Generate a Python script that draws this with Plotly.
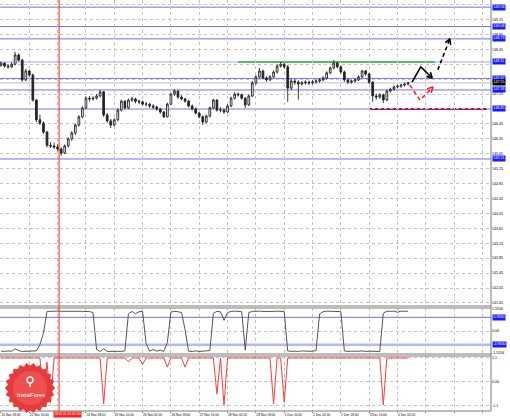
import math
import plotly.graph_objects as go

# ---------------- data (2-hour bars) ----------------
OPEN = [148.02, 148.08, 148.00, 147.98, 148.05, 148.30, 148.16, 147.63, 147.87, 147.76,
        147.09, 146.56, 146.47, 146.23, 145.88, 145.86, 145.83, 145.78, 145.67, 145.86,
        146.05, 146.21, 146.42, 146.64, 146.88, 147.14, 147.12, 147.14, 147.20, 147.31,
        146.69, 146.53, 146.42, 146.56, 146.82, 147.06, 146.88, 147.09, 147.12, 147.06,
        147.04, 146.98, 146.98, 146.93, 146.90, 146.85, 146.77, 146.64, 146.98, 147.25,
        147.33, 147.17, 147.12, 147.06, 146.93, 146.85, 146.74, 146.64, 146.50, 146.66,
        146.88, 147.09, 146.82, 146.82, 146.77, 146.93, 147.14, 147.25, 147.23, 147.14,
        146.96, 147.20, 147.55, 147.71, 147.87, 147.68, 147.63, 147.71, 147.84, 148.00,
        148.05, 147.98, 147.41, 147.60, 147.57, 147.52, 147.55, 147.57, 147.55, 147.57,
        147.60, 147.63, 147.68, 147.82, 147.95, 148.08, 147.98, 147.84, 147.63, 147.57,
        147.60, 147.63, 147.71, 147.87, 147.79, 147.57, 147.20, 147.17, 147.23, 147.09,
        147.33, 147.38, 147.44, 147.46, 147.49, 147.52]
HIGH = [148.12, 148.10, 148.05, 148.10, 148.38, 148.34, 148.19, 147.92, 147.90, 147.80,
        147.12, 146.70, 146.52, 146.26, 145.96, 145.95, 145.90, 145.82, 145.90, 146.09,
        146.25, 146.46, 146.68, 146.92, 147.18, 147.20, 147.19, 147.25, 147.36, 147.33,
        146.74, 146.58, 146.60, 146.86, 147.10, 147.08, 147.13, 147.18, 147.15, 147.10,
        147.08, 147.04, 147.01, 146.98, 146.94, 146.88, 146.80, 147.02, 147.28, 147.38,
        147.35, 147.22, 147.15, 147.09, 146.97, 146.89, 146.78, 146.68, 146.70, 146.92,
        147.13, 147.11, 146.90, 146.86, 146.97, 147.18, 147.30, 147.29, 147.26, 147.17,
        147.24, 147.60, 147.76, 147.95, 147.90, 147.72, 147.76, 147.88, 148.04, 148.11,
        148.09, 148.03, 147.66, 147.65, 147.62, 147.60, 147.62, 147.61, 147.62, 147.65,
        147.67, 147.73, 147.86, 147.99, 148.16, 148.12, 148.02, 147.88, 147.67, 147.64,
        147.67, 147.75, 147.90, 147.89, 147.82, 147.60, 147.26, 147.27, 147.26, 147.37,
        147.42, 147.48, 147.50, 147.52, 147.55, 147.57]
LOW = [147.98, 147.96, 147.93, 147.95, 148.02, 148.12, 147.58, 147.60, 147.70, 147.05,
       146.50, 146.42, 146.18, 145.82, 145.80, 145.78, 145.72, 145.60, 145.64, 145.82,
       146.00, 146.15, 146.38, 146.60, 146.85, 147.05, 147.08, 147.10, 147.16, 146.64,
       146.48, 146.34, 146.38, 146.52, 146.78, 146.84, 146.85, 147.04, 147.00, 146.98,
       146.94, 146.92, 146.88, 146.85, 146.80, 146.72, 146.61, 146.62, 146.95, 147.20,
       147.12, 147.08, 147.02, 146.89, 146.81, 146.70, 146.60, 146.42, 146.47, 146.62,
       146.85, 146.78, 146.76, 146.72, 146.74, 146.90, 147.10, 147.18, 147.10, 146.88,
       146.93, 147.17, 147.50, 147.68, 147.64, 147.58, 147.60, 147.68, 147.80, 147.96,
       147.93, 147.04, 147.36, 147.50, 147.10, 147.48, 147.50, 147.49, 147.51, 147.53,
       147.55, 147.59, 147.64, 147.78, 147.91, 147.94, 147.80, 147.58, 147.52, 147.53,
       147.56, 147.60, 147.68, 147.74, 147.52, 147.04, 147.10, 147.12, 147.01, 147.06,
       147.29, 147.34, 147.40, 147.42, 147.45, 147.48]
CLOSE = [148.08, 148.00, 147.98, 148.05, 148.30, 148.16, 147.63, 147.87, 147.76, 147.09,
         146.56, 146.47, 146.23, 145.88, 145.86, 145.83, 145.78, 145.67, 145.86, 146.05,
         146.21, 146.42, 146.64, 146.88, 147.14, 147.12, 147.14, 147.20, 147.31, 146.69,
         146.53, 146.42, 146.56, 146.82, 147.06, 146.88, 147.09, 147.12, 147.06, 147.04,
         146.98, 146.98, 146.93, 146.90, 146.85, 146.77, 146.64, 146.98, 147.25, 147.33,
         147.17, 147.12, 147.06, 146.93, 146.85, 146.74, 146.64, 146.50, 146.66, 146.88,
         147.09, 146.82, 146.82, 146.77, 146.93, 147.14, 147.25, 147.23, 147.14, 146.96,
         147.20, 147.55, 147.71, 147.87, 147.68, 147.63, 147.71, 147.84, 148.00, 148.05,
         147.98, 147.41, 147.60, 147.57, 147.52, 147.55, 147.57, 147.55, 147.57, 147.60,
         147.63, 147.68, 147.82, 147.95, 148.08, 147.98, 147.84, 147.63, 147.57, 147.60,
         147.63, 147.71, 147.87, 147.79, 147.57, 147.20, 147.17, 147.23, 147.09, 147.33,
         147.38, 147.44, 147.46, 147.49, 147.52, 147.55]
BARS = list(range(len(CLOSE)))

# oscillator sub-window (grey)
OSC = [-1.42, -1.44, -1.40, -1.43, -1.25, -1.38, -1.44, -1.42, -1.44, -1.43,
       -1.40, -0.95, -0.15, 1.38, 1.40, 1.38, 1.40, 1.39, 1.40, 1.36,
       1.38, 1.40, 1.39, 1.38, 1.40, 1.37, 1.30, -1.30, -1.44, -1.25,
       -1.44, -1.42, -1.44, -1.43, -1.44, -1.40, 1.20, 1.38, 1.22, 1.36,
       1.38, -0.90, -1.42, -1.30, -1.42, -1.35, -1.44, -0.80, 1.34, 1.38,
       1.36, 1.30, 0.10, -1.42, -1.44, -1.40, -1.44, -1.42, -1.44, -1.38,
       1.25, 1.38, 1.35, 0.75, 1.30, 1.38, 1.40, 1.38, 1.36, -1.35,
       1.30, 1.38, 1.40, 1.40, 1.38, 1.37, 1.40, 1.38, 1.40, 1.39,
       1.36, -1.40, -1.44, -1.42, -1.44, -1.40, -1.44, -1.43, -1.42, -1.38,
       1.20, 1.36, 1.40, 1.38, 1.40, 1.38, 1.36, -1.40, -1.44, -1.42,
       -1.44, -1.43, -1.40, -1.44, -1.42, -1.44, -1.43, -1.44, 1.25, 1.40,
       1.38, 1.40, 1.32, 1.40, 1.39, 1.40]
OSC_LEVELS = [0.9630, -0.9630]

# signal sub-window (red)
SIG = [1.10, 1.10, 1.10, 1.10, 1.10, 1.10, 1.10, 1.10, 1.10, 1.10,
       1.10, 1.10, -0.85, 0.90, -0.95, 1.10, 1.10, 1.10, 1.10, 1.10,
       1.10, 1.10, 1.10, 1.10, 1.10, 1.10, 1.10, 1.10, 1.10, -1.00,
       1.10, 1.10, 1.10, 1.10, 1.10, 1.10, 0.92, 1.10, 1.10, 1.10,
       0.80, 1.10, 1.10, 1.10, 1.10, 1.10, 1.10, 0.68, 1.10, 1.10,
       1.10, 1.10, 0.68, 1.10, 1.10, 1.10, 1.10, 1.10, 1.10, 1.10,
       1.10, -0.55, 1.10, -1.05, 1.10, 1.10, 1.10, 1.10, 1.10, 1.10,
       1.10, 1.10, 1.10, 1.10, 1.10, 1.10, 1.10, -1.00, 1.10, 1.10,
       -0.92, 1.10, 1.10, 1.10, 1.10, 1.10, 1.10, 1.10, 1.10, 1.10,
       1.10, 1.10, 1.10, 1.10, 1.10, 1.10, 1.10, 1.10, 1.10, 1.10,
       1.10, 1.10, 1.10, 1.10, 1.10, 1.10, 1.10, 1.10, -1.05, 1.10,
       1.10, 1.10, 1.10, 1.10, 1.10, 1.10]

# horizontal levels drawn on the price chart
BLUE_LEVELS = [149.58, 149.06, 148.73, 147.67, 147.36, 145.51]
RESIST_LEVEL = 148.11
SUPPORT_LEVEL = 146.85

# axis ticks (labels hidden under level badges are left blank)
Y_TICKS = [141.65, 142.05, 142.45, 142.85, 143.25, 143.65, 144.05, 144.45, 144.85, 145.25,
           145.65, 146.05, 146.45, 146.85, 147.25, 147.65, 148.05, 148.45, 148.85, 149.25, 149.65]
Y_TICK_TEXT = ["141.65", "142.05", "142.45", "142.85", "143.25", "143.65", "144.05", "144.45",
               "144.85", "145.25", "145.65", "146.05", "146.45", "", "147.25", "",
               "", "148.45", "148.85", "149.25", ""]
X_TICKS = [0, 8, 16, 24, 32, 40, 48, 56, 64, 72, 80, 88, 96, 104, 112, 120, 128, 136]
X_TICK_TEXT = ["20 Nov 18:00", "21 Nov 10:00", "", "24 Nov 18:00", "25 Nov 10:00",
               "26 Nov 02:00", "26 Nov 18:00", "27 Nov 10:00", "28 Nov 02:00", "28 Nov 18:00",
               "1 Dec 10:00", "2 Dec 02:00", "2 Dec 18:00", "3 Dec 10:00", "4 Dec 02:00", "", "", ""]
VLINE_BAR = 16.4
VLINE_TEXT = "2014.11.24 01:00"

# forecast arrows (bar, price)
ARROW_BLACK = ([116.1, 118.6, 121.8], [147.57, 147.98, 147.68])
ARROW_BLACK_UP = ([123.4, 126.8], [147.90, 148.73])
ARROW_RED = ([115.5, 118.4, 122.0], [147.49, 147.09, 147.44])

# ---------------- geometry ----------------
W, H = 510, 420
AX_R = 491
MAIN = (0, 306)
P2 = (308, 354)
P3 = (356, 411)
XR = [-0.28, 138.42]
Y1R = [141.568, 149.772]
Y2R = [-1.62, 1.62]
Y3R = [-1.33, 1.19]
FONT = "Liberation Sans, Arial, sans-serif"
FS = 3.6
FSX = 3.2


def dom(p):
    return [1 - p[1] / H, 1 - p[0] / H]


def to_px(x, y):
    px = (x - XR[0]) / (XR[1] - XR[0]) * AX_R
    py = MAIN[0] + (Y1R[1] - y) / (Y1R[1] - Y1R[0]) * (MAIN[1] - MAIN[0])
    return px, py


def from_px(px, py):
    x = XR[0] + px / AX_R * (XR[1] - XR[0])
    y = Y1R[1] - (py - MAIN[0]) / (MAIN[1] - MAIN[0]) * (Y1R[1] - Y1R[0])
    return x, y


def head(xs, ys, length=6.0, ang=0.5):
    tx, ty = to_px(xs[-1], ys[-1])
    sx, sy = to_px(xs[-2], ys[-2])
    dx, dy = sx - tx, sy - ty
    n = math.hypot(dx, dy)
    dx, dy = dx / n, dy / n
    pts = []
    for a in (ang, -ang):
        rx = dx * math.cos(a) - dy * math.sin(a)
        ry = dx * math.sin(a) + dy * math.cos(a)
        pts.append(from_px(tx + rx * length, ty + ry * length))
    return ([pts[0][0], xs[-1], pts[1][0]], [pts[0][1], ys[-1], pts[1][1]])


fig = go.Figure()

fig.add_trace(go.Candlestick(
    x=BARS, open=OPEN, high=HIGH, low=LOW, close=CLOSE, xaxis="x", yaxis="y",
    increasing=dict(line=dict(color="#222222", width=0.9), fillcolor="#ffffff"),
    decreasing=dict(line=dict(color="#222222", width=0.9), fillcolor="#222222"),
    whiskerwidth=0, showlegend=False, hoverinfo="skip"))

fig.add_trace(go.Scatter(x=BARS, y=OSC, mode="lines", xaxis="x2", yaxis="y2",
                         line=dict(color="#555555", width=1), showlegend=False, hoverinfo="skip"))
fig.add_trace(go.Scatter(x=BARS, y=SIG, mode="lines", xaxis="x3", yaxis="y3",
                         line=dict(color="#ff3b3b", width=1), showlegend=False, hoverinfo="skip"))

# arrows
fig.add_trace(go.Scatter(x=ARROW_BLACK[0], y=ARROW_BLACK[1], mode="lines", xaxis="x", yaxis="y",
                         line=dict(color="#000000", width=1.6), showlegend=False, hoverinfo="skip"))
hx, hy = head(*ARROW_BLACK)
fig.add_trace(go.Scatter(x=hx, y=hy, mode="lines", line=dict(color="#000000", width=1.6),
                         showlegend=False, hoverinfo="skip"))
fig.add_trace(go.Scatter(x=ARROW_BLACK_UP[0], y=ARROW_BLACK_UP[1], mode="lines",
                         line=dict(color="#000000", width=1.6, dash="4px,3px"),
                         showlegend=False, hoverinfo="skip"))
hx, hy = head(*ARROW_BLACK_UP)
fig.add_trace(go.Scatter(x=hx, y=hy, mode="lines", line=dict(color="#000000", width=1.6),
                         showlegend=False, hoverinfo="skip"))
fig.add_trace(go.Scatter(x=ARROW_RED[0], y=ARROW_RED[1], mode="lines",
                         line=dict(color="#ff2020", width=1.6, dash="4px,3px"),
                         showlegend=False, hoverinfo="skip"))
hx, hy = head(*ARROW_RED)
fig.add_trace(go.Scatter(x=hx, y=hy, mode="lines", line=dict(color="#ff2020", width=1.6),
                         showlegend=False, hoverinfo="skip"))

shapes = []


def hline(y, x0, x1, color, width=1, yref="y"):
    shapes.append(dict(type="line", xref="x", yref=yref, x0=x0, x1=x1, y0=y, y1=y,
                       line=dict(color=color, width=width), layer="below"))


for lv in BLUE_LEVELS:
    hline(lv, XR[0], XR[1], "#6f6fff")
g0 = from_px(238, 0)[0]
g1 = from_px(435, 0)[0]
hline(RESIST_LEVEL, XR[0], g0, "#a4a4ff")
hline(RESIST_LEVEL, g0, g1, "#5cb85c", 2)
hline(RESIST_LEVEL, g1, XR[1], "#a4a4ff")
m0 = from_px(370, 0)[0]
m1 = from_px(487, 0)[0]
hline(SUPPORT_LEVEL, XR[0], m0, "#6f6fff")
hline(SUPPORT_LEVEL, m0, m1, "#b0145a", 2)
hline(SUPPORT_LEVEL, m1, XR[1], "#6f6fff")
hline(CLOSE[-1], XR[0], XR[1], "#c0c0c0")
hline(OSC_LEVELS[0], XR[0], XR[1], "#6f6fff", 1, "y2")
hline(OSC_LEVELS[1], XR[0], XR[1], "#b4b8ff", 2.5, "y2")


def pp(px, py):
    return px / W, 1 - py / H


for y in (306, 308, 354, 356, 411):
    x0, yy = pp(0, y)
    x1, _ = pp(AX_R, y)
    shapes.append(dict(type="line", xref="paper", yref="paper", x0=x0, x1=x1, y0=yy, y1=yy,
                       line=dict(color="#7a7a7a", width=1), layer="above"))
xa, _ = pp(AX_R, 0)
_, ya1 = pp(AX_R, 411)
shapes.append(dict(type="line", xref="paper", yref="paper", x0=xa, x1=xa, y0=ya1, y1=1,
                   line=dict(color="#7a7a7a", width=1), layer="above"))
shapes.append(dict(type="line", xref="x", yref="paper", x0=VLINE_BAR, x1=VLINE_BAR,
                   y0=1 - 411 / H, y1=1, line=dict(color="#ff2020", width=1), layer="above"))

# InstaForex gear logo
cx, cy, ro, ri, nt = 30, 388, 25, 22, 22
pts = []
for i in range(nt * 2):
    a = math.pi * i / nt
    r = ro if i % 2 == 0 else ri
    pts.append(pp(cx + r * math.cos(a), cy + r * math.sin(a)))
path = "M " + " L ".join(f"{x:.5f},{y:.5f}" for x, y in pts) + " Z"
shapes.append(dict(type="path", xref="paper", yref="paper", path=path,
                   fillcolor="#e53b3b", line=dict(color="#e53b3b", width=0.5), layer="above"))
c0 = pp(cx - 17, cy - 17)
c1 = pp(cx + 17, cy + 17)
shapes.append(dict(type="circle", xref="paper", yref="paper", x0=c0[0], x1=c1[0], y0=c1[1], y1=c0[1],
                   fillcolor="#ee5050", line=dict(width=0), layer="above"))
i0 = pp(cx - 3, cy - 11)
i1 = pp(cx + 3, cy - 5)
shapes.append(dict(type="circle", xref="paper", yref="paper", x0=i0[0], x1=i1[0], y0=i1[1], y1=i0[1],
                   line=dict(color="#ffffff", width=1.5), layer="above"))
s0 = pp(cx, cy - 5)
s1 = pp(cx, cy - 1)
shapes.append(dict(type="line", xref="paper", yref="paper", x0=s0[0], x1=s1[0], y0=s0[1], y1=s1[1],
                   line=dict(color="#ffffff", width=1.5), layer="above"))

annotations = []


def badge(y, text, bg, yref="y"):
    annotations.append(dict(xref="paper", yref=yref, x=(AX_R + 1) / W, y=y, xanchor="left",
                            yanchor="middle", text=text, showarrow=False, bgcolor=bg,
                            borderpad=0.4, font=dict(family=FONT, size=FS, color="#ffffff")))


for lv in BLUE_LEVELS + [RESIST_LEVEL, SUPPORT_LEVEL]:
    badge(lv, f"{lv:.2f}", "#1a1aff")
badge(CLOSE[-1], f"{CLOSE[-1]:.2f}", "#000000")
for lv in OSC_LEVELS:
    badge(lv, f"{lv:.4f}", "#1a1aff", "y2")

# time badge of the red vertical line (kept just clear of the preceding tick label)
annotations.append(dict(xref="paper", yref="paper", x=52.5 / W, y=1 - 414.5 / H, text=VLINE_TEXT,
                        showarrow=False, bgcolor="#ff2020", borderpad=0.4, xanchor="left",
                        yanchor="middle", font=dict(family=FONT, size=3.4, color="#ffffff")))
lx, ly = pp(cx + 1, cy + 7)
annotations.append(dict(xref="paper", yref="paper", x=lx, y=ly, text="InstaForex", showarrow=False,
                        xanchor="center", yanchor="middle",
                        font=dict(family=FONT, size=6, color="#ffffff")))

grid = dict(showgrid=True, gridcolor="#c4c4c4", griddash="dot", gridwidth=1, zeroline=False,
            automargin=False)
xcommon = dict(domain=[0, AX_R / W], range=XR, tickvals=X_TICKS, **grid)
tickfont = dict(family=FONT, size=FS, color="#000000")
ycommon = dict(side="right", ticks="", tickfont=tickfont, **grid)

fig.update_layout(
    width=W, height=H, margin=dict(l=0, r=0, t=0, b=0, pad=0, autoexpand=False),
    paper_bgcolor="#ffffff", plot_bgcolor="#ffffff", showlegend=False,
    xaxis=dict(anchor="y", showticklabels=False, rangeslider=dict(visible=False), **xcommon),
    xaxis2=dict(anchor="y2", matches="x", showticklabels=False, **xcommon),
    xaxis3=dict(anchor="y3", matches="x", showticklabels=True, ticktext=X_TICK_TEXT,
                ticklabelposition="outside right", tickangle=0, ticks="outside", ticklen=1,
                tickcolor="#7a7a7a", tickfont=dict(family=FONT, size=FSX, color="#000000"),
                **xcommon),
    yaxis=dict(domain=dom(MAIN), range=Y1R, anchor="x", tickvals=Y_TICKS,
               ticktext=Y_TICK_TEXT, **ycommon),
    yaxis2=dict(domain=dom(P2), range=Y2R, anchor="x2",
                tickvals=[1.5556, 0, -1.5556], ticktext=["1.5556", "0.00", "-1.5556"], **ycommon),
    yaxis3=dict(domain=dom(P3), range=Y3R, anchor="x3",
                tickvals=[1.1, 0, -1.1], ticktext=["1.1", "0.00", "-1.1"], **ycommon),
    shapes=shapes, annotations=annotations,
)

fig.write_html("out.html", config={"displayModeBar": False},
               post_script="document.body.style.margin='0';document.body.style.padding='0';")
